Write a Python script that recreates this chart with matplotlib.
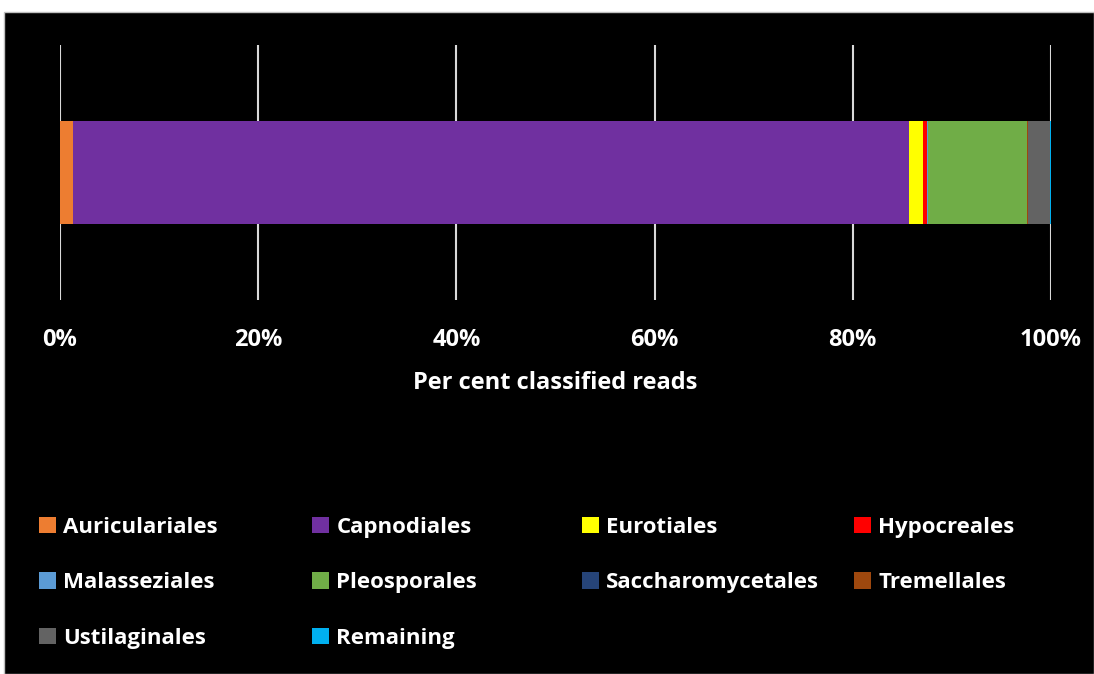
import matplotlib
matplotlib.use("Agg")
import matplotlib.pyplot as plt
from matplotlib.patches import Patch, Rectangle

# Fungal orders and their share of classified reads (%)
orders = ["Auriculariales", "Capnodiales", "Eurotiales", "Hypocreales",
          "Malasseziales", "Pleosporales", "Saccharomycetales", "Tremellales",
          "Ustilaginales", "Remaining"]
percent = [1.3, 84.4, 1.4, 0.4, 0.05, 10.05, 0.02, 0.05, 2.2, 0.13]
colors = ["#ED7D31", "#7030A0", "#FFFF00", "#FF0000", "#5B9BD5",
          "#70AD47", "#264478", "#9E480E", "#636363", "#00B0F0"]
tick_values = [0, 20, 40, 60, 80, 100]
tick_labels = ["0%", "20%", "40%", "60%", "80%", "100%"]

W, H = 1094, 674
fig = plt.figure(figsize=(W / 100, H / 100), dpi=100, facecolor="white")
fig.patches.append(Rectangle((4 / W, 0), 1 - 4 / W, 1 - 12 / H,
                             transform=fig.transFigure, facecolor="black",
                             edgecolor="#bfbfbf", linewidth=1, zorder=-10))

ax = fig.add_axes([60 / W, 1 - 300 / H, (1051 - 60) / W, (300 - 45) / H])
ax.patch.set_alpha(0)

left = 0
for name, val, col in zip(orders, percent, colors):
    ax.barh(0, val, left=left, height=0.4, color=col, label=name, zorder=3)
    left += val

ax.set_xlim(0, 100)
ax.set_ylim(-0.5, 0.5)
ax.set_yticks([])
ax.set_xticks(tick_values)
ax.set_xticklabels(tick_labels, fontsize=17, fontweight="bold", color="white",
                   family="Open Sans")
ax.tick_params(axis="x", length=0, pad=20)
ax.grid(axis="x", color="#d9d9d9", linewidth=1.5, zorder=1)
for s in ax.spines.values():
    s.set_visible(False)
ax.set_xlabel("Per cent classified reads", fontsize=17, fontweight="bold",
              color="white", family="Open Sans", labelpad=14)

# Legend laid out as four columns
handles = {n: Patch(facecolor=c) for n, c in zip(orders, colors)}
columns = [["Auriculariales", "Malasseziales", "Ustilaginales"],
           ["Capnodiales", "Pleosporales", "Remaining"],
           ["Eurotiales", "Saccharomycetales"],
           ["Hypocreales", "Tremellales"]]
col_x = [30, 303, 573, 845]
for names, x in zip(columns, col_x):
    leg = fig.legend([handles[n] for n in names], names,
                     loc="upper left", bbox_to_anchor=(x / W, 1 - 508 / H),
                     frameon=False, handlelength=0.75, handleheight=0.75,
                     handletextpad=0.35, labelspacing=1.55, borderaxespad=0,
                     prop={"family": "Open Sans", "weight": "bold", "size": 16})
    for t in leg.get_texts():
        t.set_color("white")

fig.savefig("out.png", dpi=100, facecolor="white")
